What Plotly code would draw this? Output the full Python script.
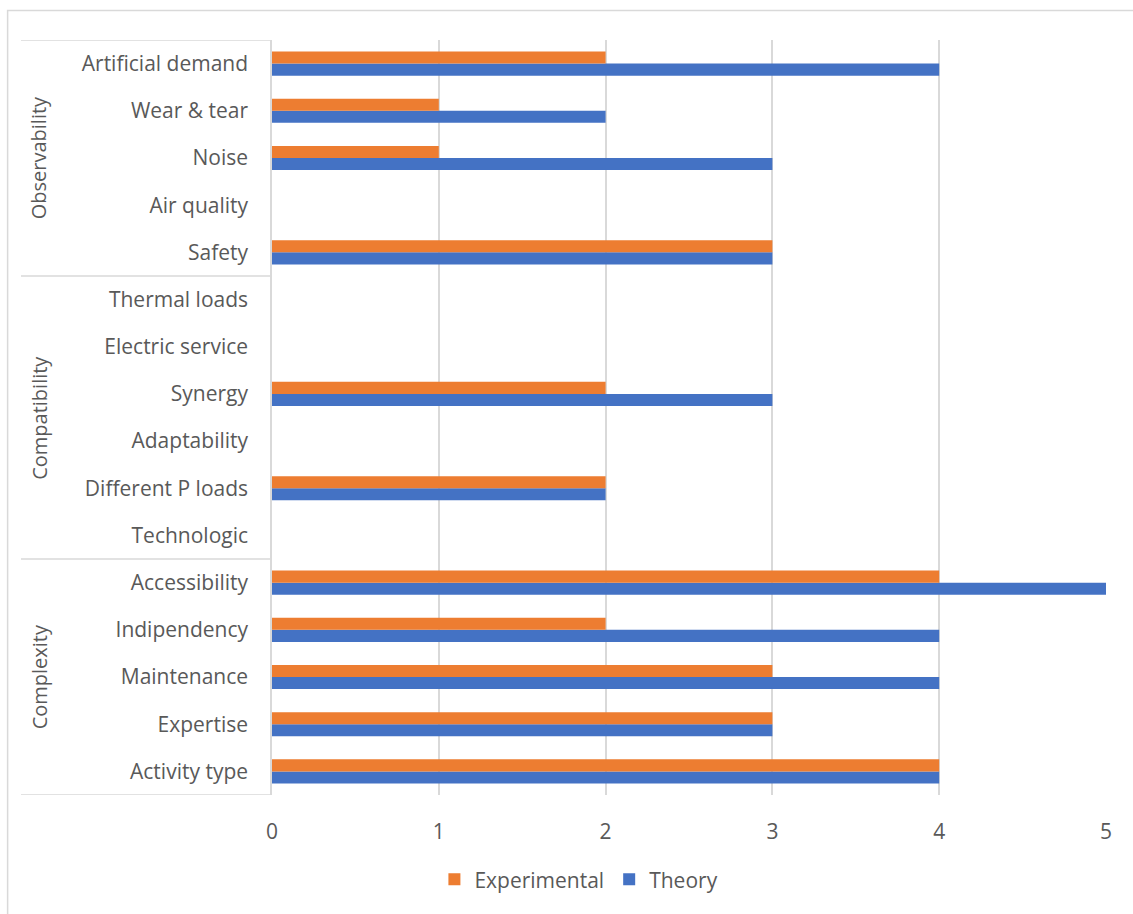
import plotly.graph_objects as go

# Criteria grouped by family, listed bottom-to-top
groups = ["Complexity", "Compatibility", "Observability"]
criteria = {
    "Complexity": ["Activity type", "Expertise", "Maintenance", "Indipendency", "Accessibility"],
    "Compatibility": ["Technologic", "Different P loads", "Adaptability", "Synergy",
                      "Electric service", "Thermal loads"],
    "Observability": ["Safety", "Air quality", "Noise", "Wear & tear", "Artificial demand"],
}
theory = [4, 3, 4, 4, 5, 0, 2, 0, 3, 0, 0, 3, 0, 3, 2, 4]
experimental = [4, 3, 3, 2, 4, 0, 2, 0, 2, 0, 0, 3, 0, 1, 1, 2]
x_ticks = [0, 1, 2, 3, 4, 5]

labels = [c for g in groups for c in criteria[g]]

FONT = "Open Sans"
FS = 21
TXT = "#595959"
GRID = "#d9d9d9"
BLUE = "#4472c4"
ORANGE = "#ed7d31"

fig = go.Figure()
fig.add_trace(go.Bar(y=labels, x=theory, orientation="h", name="Theory",
                     marker=dict(color=BLUE, line=dict(width=0))))
fig.add_trace(go.Bar(y=labels, x=experimental, orientation="h", name="Experimental",
                     marker=dict(color=ORANGE, line=dict(width=0))))

shapes = []
annotations = []
# group separators and rotated group titles on the category axis
left = -0.301
start = 0
bounds = [-0.5]
for g in groups:
    n = len(criteria[g])
    end = start + n
    bounds.append(end - 0.5)
    annotations.append(dict(text=g, textangle=-90, xref="paper", yref="y",
                            x=-0.279, y=(start + end - 1) / 2, showarrow=False,
                            xanchor="center", yanchor="middle",
                            font=dict(family=FONT, size=20, color=TXT)))
    start = end
for b in bounds:
    shapes.append(dict(type="line", xref="paper", yref="y", x0=left, x1=0, y0=b, y1=b,
                       line=dict(color=GRID, width=1.5)))
# chart frame
shapes.append(dict(type="rect", xref="paper", yref="paper", x0=-0.317, x1=1.2,
                   y0=-0.3, y1=1.039, line=dict(color=GRID, width=1.5), layer="below"))

fig.update_layout(
    width=1133, height=914,
    margin=dict(l=272, r=27, t=40, b=119),
    barmode="group", bargap=0.49, bargroupgap=0,
    plot_bgcolor="white", paper_bgcolor="white",
    font=dict(family=FONT, size=FS, color=TXT),
    shapes=shapes, annotations=annotations,
    legend=dict(orientation="h", x=0.368, xanchor="center", y=-0.085, yanchor="top",
                traceorder="reversed", font=dict(family=FONT, size=FS, color=TXT),
                itemwidth=30),
    xaxis=dict(range=[0, 5], tickvals=x_ticks, showgrid=True, gridcolor=GRID, gridwidth=1.5,
               zeroline=False, showline=False, ticklabelstandoff=22,
               tickfont=dict(family=FONT, size=FS, color=TXT)),
    yaxis=dict(type="category", categoryorder="array", categoryarray=labels,
               range=[-0.5, len(labels) - 0.5], showgrid=False, zeroline=False,
               showline=True, linecolor=GRID, linewidth=1.5, ticklabelstandoff=18,
               tickfont=dict(family=FONT, size=FS, color=TXT)),
)

fig.write_html("out.html")
